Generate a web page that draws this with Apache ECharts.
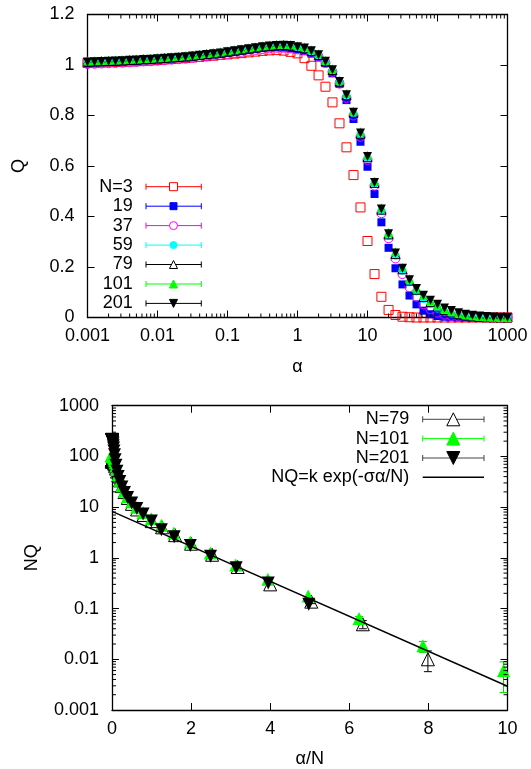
<!DOCTYPE html>
<html><head><meta charset="utf-8">
<script src="https://cdn.jsdelivr.net/npm/echarts@6.0.0/dist/echarts.min.js"></script>
<style>html,body{margin:0;padding:0;background:#fff}#c{width:531px;height:769px}</style>
</head><body><div id="c"></div>
<script>
// ---------- DATA ----------
const alpha = [0.001,0.00126,0.00158,0.002,0.00251,0.00316,0.00398,0.00501,0.00631,0.00794,
0.01,0.0126,0.0158,0.02,0.0251,0.0316,0.0398,0.0501,0.0631,0.0794,
0.1,0.126,0.158,0.2,0.251,0.316,0.398,0.501,0.631,0.794,
1,1.26,1.58,2,2.51,3.16,3.98,5.01,6.31,7.94,
10,12.6,15.8,20,25.1,31.6,39.8,50.1,63.1,79.4,
100,126,158,200,251,316,398,501,631,794,1000];

const topNames = ['N=3','19','37','59','79','101','201'];
const topN = [3,19,37,59,79,101,201];

const qN3 = [1.008,1.009,1.010,1.011,1.012,1.013,1.014,1.015,1.017,1.018,1.020,1.022,1.024,1.026,1.028,1.030,1.032,1.035,1.037,1.040,1.042,1.045,1.047,1.050,1.053,1.056,1.058,1.059,1.057,1.052,1.046,
1.027,0.997,0.959,0.914,0.852,0.769,0.674,0.564,0.436,0.303,0.172,0.082,0.030,0.010,0.003,0.001,0,0,0,0,0,0,0,0,0,0,0,0,0,0];
const qN19 = [1.008,1.009,1.010,1.011,1.012,1.013,1.015,1.016,1.018,1.019,1.021,1.023,1.025,1.027,1.029,1.032,1.035,1.038,1.041,1.044,1.048,1.052,1.056,1.060,1.064,1.067,1.069,1.070,1.069,1.066,1.062,
1.055,1.045,1.030,1.007,0.967,0.925,0.861,0.786,0.696,0.597,0.489,0.377,0.276,0.195,0.131,0.087,0.052,0.027,0.013,0.006,0.003,0.0015,0.0005,0,0,0,0,0,0,0];
const qN37 = [1.004,1.005,1.006,1.007,1.008,1.009,1.011,1.012,1.014,1.015,1.017,1.019,1.021,1.023,1.025,1.028,1.031,1.034,1.037,1.040,1.044,1.048,1.052,1.056,1.060,1.063,1.066,1.068,1.068,1.066,1.062,
1.058,1.048,1.033,1.008,0.973,0.926,0.870,0.800,0.716,0.624,0.522,0.413,0.314,0.234,0.172,0.120,0.082,0.052,0.032,0.019,0.011,0.006,0.0035,0.002,0.001,0.0005,0.0002,0.0001,0,0];
const qN59 = [1.014,1.015,1.016,1.017,1.018,1.019,1.021,1.022,1.024,1.025,1.027,1.029,1.031,1.033,1.035,1.038,1.041,1.044,1.047,1.050,1.054,1.058,1.062,1.066,1.070,1.073,1.076,1.077,1.077,1.075,1.070,
1.064,1.053,1.038,1.012,0.978,0.932,0.878,0.808,0.725,0.632,0.530,0.423,0.325,0.246,0.185,0.140,0.103,0.073,0.052,0.036,0.024,0.015,0.009,0.005,0.003,0.0017,0.001,0.0005,0.0002,0.0001];
const qN79 = [1.013,1.014,1.015,1.016,1.017,1.018,1.020,1.021,1.023,1.024,1.026,1.028,1.030,1.032,1.034,1.037,1.040,1.043,1.046,1.049,1.053,1.057,1.061,1.065,1.069,1.073,1.076,1.078,1.079,1.077,1.071,
1.066,1.055,1.040,1.014,0.980,0.934,0.880,0.811,0.728,0.635,0.533,0.427,0.329,0.251,0.191,0.146,0.110,0.081,0.061,0.043,0.030,0.020,0.013,0.008,0.0045,0.0024,0.0012,0.0006,0.0003,0.0001];
const qN101 = [1.016,1.017,1.018,1.019,1.020,1.021,1.023,1.024,1.026,1.027,1.029,1.031,1.033,1.035,1.037,1.040,1.043,1.046,1.049,1.052,1.056,1.060,1.064,1.068,1.072,1.076,1.079,1.081,1.082,1.081,1.076,
1.071,1.060,1.045,1.019,0.985,0.940,0.887,0.818,0.736,0.643,0.540,0.435,0.337,0.260,0.198,0.153,0.117,0.088,0.066,0.049,0.035,0.025,0.017,0.011,0.007,0.0037,0.0018,0.0006,0.0002,0.0001];
const qN201 = [1.012,1.013,1.014,1.015,1.016,1.017,1.019,1.020,1.022,1.023,1.025,1.027,1.029,1.031,1.033,1.036,1.039,1.042,1.045,1.048,1.052,1.056,1.060,1.064,1.068,1.072,1.075,1.077,1.078,1.077,1.072,
1.067,1.056,1.041,1.015,0.981,0.935,0.882,0.813,0.731,0.638,0.535,0.430,0.332,0.255,0.195,0.150,0.115,0.088,0.068,0.052,0.038,0.028,0.019,0.013,0.0085,0.0055,0.0035,0.0022,0.0012,0.0006];
const topQ = [qN3,qN19,qN37,qN59,qN79,qN101,qN201];

const logTickLabels = ['0.001','0.01','0.1','1','10','100','1000'];
const minorMult = [2,3,4,5,6,7,8,9];
const decades = [0.001,0.01,0.1,1,10,100];

// bottom panel: NQ versus alpha/N
const botNames = ['N=79','N=101','N=201','NQ=k exp(-\u03c3\u03b1/N)'];
const botN = [79,101,201];
const nqN79 = [80.0,80.1,80.2,80.3,80.3,80.4,80.6,80.7,80.8,80.9,81.1,81.2,81.4,81.5,81.7,81.9,82.2,82.4,82.6,82.9,83.2,83.5,83.8,84.1,84.5,84.8,85.0,85.2,85.2,85.1,84.6,
84.2,83.3,82.2,80.1,77.4,73.8,69.5,64.1,57.5,50.2,42.1,33.7,26.0,19.8,15.1,11.6,9.0,7.0,5.3,4.0,2.8,1.9,1.15,0.66,0.30,0.137,0.049,0.0100,null,null];
const nqN101 = [102.6,102.7,102.8,102.9,103.0,103.1,103.3,103.4,103.6,103.7,103.9,104.1,104.3,104.5,104.7,105.0,105.3,105.6,105.9,106.3,106.7,107.1,107.5,107.9,108.3,108.7,109.0,109.2,109.3,109.2,108.7,
108.2,107.1,105.5,102.9,99.5,94.9,89.6,82.6,74.3,64.9,54.5,44,34,26.3,20.5,16.2,12.8,10.0,7.8,5.9,4.4,3.1,2.05,1.25,0.72,0.377,0.177,0.064,0.0184,0.0060];
const nqN201 = [203,204,204,204,204,204,205,205,205,206,206,206,207,207,208,208,209,209,210,211,211,212,213,214,215,215,216,216,217,216,215,
214,212,209,204,197,188,177,163,147,128,108,86,67,51,40,32,25,19.5,15.5,12.0,9.4,7.3,5.3,3.6,2.6,1.75,1.08,0.64,0.32,0.121];
const botNQ = [nqN79,nqN101,nqN201];
// error bars: index into alpha, low, high
const err79Idx = [56,57,58], err79Lo = [0.125,0.040,0.0057], err79Hi = [0.150,0.058,0.0146];
const err101Idx = [58,59,60], err101Lo = [0.058,0.0137,0.0022], err101Hi = [0.070,0.0225,0.0089];
// fitted line end points
const fitX = [0, 10];
const fitY = [8.27, 0.00294];

// ---------- STYLES ----------
const FF = '"Liberation Sans", Arial, sans-serif';
const topStyles = [
  {symbol:'rect', size:9, fill:'transparent', stroke:'#ff0000'},
  {symbol:'rect', size:8, fill:'#0000ff', stroke:'#0000ff'},
  {symbol:'circle', size:9, fill:'transparent', stroke:'#ff00ff'},
  {symbol:'circle', size:8, fill:'#00ffff', stroke:'#00ffff'},
  {symbol:'triangle', size:9, fill:'transparent', stroke:'#000000'},
  {symbol:'triangle', size:9, fill:'#00ff00', stroke:'#00ff00'},
  {symbol:'triangle', size:9, rotate:180, fill:'#000000', stroke:'#000000'}
];
const topLineColors = ['#ff0000','#0000ff','#ff00ff','#00ffff','#000000','#00ff00','#000000'];
const botStyles = [
  {symbol:'triangle', size:13, fill:'transparent', stroke:'#000000'},
  {symbol:'triangle', size:13, fill:'#00ff00', stroke:'#00ff00'},
  {symbol:'triangle', size:13, rotate:180, fill:'#000000', stroke:'#000000'}
];
const botLineColors = ['#444444','#00ff00','#444444'];

function axBase(extra){
  return Object.assign({
    axisLine:{onZero:false, lineStyle:{color:'#000', width:1.3}},
    axisTick:{inside:true, length:7, lineStyle:{color:'#000', width:1}},
    splitLine:{show:false},
    axisLabel:{color:'#000', fontSize:18, fontFamily:FF, margin:10},
    nameTextStyle:{color:'#000', fontSize:18, fontFamily:FF}
  }, extra);
}
const logFmt = v => logTickLabels[Math.round(Math.log10(v)) + 3];

const series = [];
topQ.forEach((q, s) => {
  const st = topStyles[s];
  series.push({
    type:'scatter', name: topNames[s], xAxisIndex:0, yAxisIndex:0,
    symbol: st.symbol, symbolSize: st.size, symbolRotate: st.rotate || 0,
    itemStyle:{color: st.fill, borderColor: st.stroke, borderWidth: st.fill==='transparent'?1:0, opacity:1},
    data: alpha.map((a,i)=>[a, q[i]]), silent:true, animation:false, z:2
  });
});
function errSeries(idx, lo, hi, N, color){
  return {type:'custom', xAxisIndex:2, yAxisIndex:2, silent:true, animation:false, z:3,
    data: idx.map((k,j)=>[alpha[k]/N, lo[j], hi[j]]),
    renderItem(p, api){
      const a = api.coord([api.value(0), api.value(1)]);
      const b = api.coord([api.value(0), api.value(2)]);
      const w = 4, sty = {stroke:color, lineWidth:1};
      return {type:'group', children:[
        {type:'line', shape:{x1:a[0],y1:a[1],x2:b[0],y2:b[1]}, style:sty},
        {type:'line', shape:{x1:a[0]-w,y1:a[1],x2:a[0]+w,y2:a[1]}, style:sty},
        {type:'line', shape:{x1:b[0]-w,y1:b[1],x2:b[0]+w,y2:b[1]}, style:sty}]};
    }};
}
series.push(errSeries(err79Idx, err79Lo, err79Hi, 79, '#000'));
series.push(errSeries(err101Idx, err101Lo, err101Hi, 101, '#00cc00'));
botNQ.forEach((nq, s) => {
  const st = botStyles[s];
  series.push({
    type:'scatter', name: botNames[s], xAxisIndex:2, yAxisIndex:2,
    symbol: st.symbol, symbolSize: st.size, symbolRotate: st.rotate || 0,
    itemStyle:{color: st.fill, borderColor: st.stroke, borderWidth: st.fill==='transparent'?1:0, opacity:1},
    data: alpha.map((a,i)=>[a/botN[s], nq[i]]).filter(d => d[1] != null && d[0] <= 10),
    silent:true, animation:false, z:4
  });
});
series.push({type:'line', name: botNames[3], xAxisIndex:2, yAxisIndex:2, symbol:'none',
  lineStyle:{color:'#000', width:1.4}, data: fitX.map((x,i)=>[x, fitY[i]]), silent:true, animation:false, z:5});

// minor ticks for log axes
const minorVals = [];
decades.forEach(d => minorMult.forEach(m => minorVals.push(d*m)));
series.push({type:'custom', xAxisIndex:0, yAxisIndex:0, silent:true, animation:false, z:6,
  data: minorVals.map(v=>[v, 0]),
  renderItem(p, api){
    const b = api.coord([api.value(0), 0]), t = api.coord([api.value(0), 1.2]);
    const sty = {stroke:'#000', lineWidth:1};
    return {type:'group', children:[
      {type:'line', shape:{x1:b[0],y1:b[1],x2:b[0],y2:b[1]-4}, style:sty},
      {type:'line', shape:{x1:t[0],y1:t[1],x2:t[0],y2:t[1]+4}, style:sty}]};
  }});
series.push({type:'custom', xAxisIndex:2, yAxisIndex:2, silent:true, animation:false, z:6,
  data: minorVals.map(v=>[0, v]),
  renderItem(p, api){
    const l = api.coord([0, api.value(1)]), r = api.coord([10, api.value(1)]);
    const sty = {stroke:'#000', lineWidth:1};
    return {type:'group', children:[
      {type:'line', shape:{x1:l[0],y1:l[1],x2:l[0]+4,y2:l[1]}, style:sty},
      {type:'line', shape:{x1:r[0],y1:r[1],x2:r[0]-4,y2:r[1]}, style:sty}]};
  }});

// ---------- LEGENDS (graphic) ----------
function marker(st, cx, cy){
  const s = st.size, h = s/2;
  const style = {fill: st.fill==='transparent' ? '#fff' : st.fill, stroke: st.stroke, lineWidth:1};
  if (st.symbol==='rect') return {type:'rect', shape:{x:cx-h,y:cy-h,width:s,height:s}, style};
  if (st.symbol==='circle') return {type:'circle', shape:{cx:cx,cy:cy,r:h}, style};
  const pts = st.rotate ? [[cx-h,cy-h],[cx+h,cy-h],[cx,cy+h]] : [[cx,cy-h],[cx+h,cy+h],[cx-h,cy+h]];
  return {type:'polygon', shape:{points:pts}, style};
}
function errLegendRow(text, tx, x1, x2, mx, y, color, st){
  const sty = {stroke:color, lineWidth:1};
  const els = [
    {type:'text', style:{text:text, x:tx, y:y, textAlign:'right', textVerticalAlign:'middle', font:'18px '+FF, fill:'#000'}},
    {type:'line', shape:{x1:x1,y1:y,x2:x2,y2:y}, style:sty},
    {type:'line', shape:{x1:x1,y1:y-3,x2:x1,y2:y+3}, style:sty},
    {type:'line', shape:{x1:x2,y1:y-3,x2:x2,y2:y+3}, style:sty}
  ];
  if (st) els.push(marker(st, mx, y));
  return els;
}
const graphic = [];
const topRowsY = [186.7,206.2,225.6,245.1,264.5,284.0,303.4];
topNames.forEach((n,i)=>{
  const st = Object.assign({}, topStyles[i], {size: topStyles[i].size - 1});
  errLegendRow(n, 132.7, 146, 201.3, 173.5, topRowsY[i], topLineColors[i], st).forEach(e=>graphic.push(e));
});
const botRowsY = [419.3,438.6,458.0,477.3];
for (let i=0;i<3;i++){
  errLegendRow(botNames[i], 409.3, 422.7, 484, 453.3, botRowsY[i], botLineColors[i], botStyles[i]).forEach(e=>graphic.push(e));
}
graphic.push({type:'text', style:{text:botNames[3], x:409.3, y:botRowsY[3], textAlign:'right', textVerticalAlign:'middle', font:'18px '+FF, fill:'#000'}});
graphic.push({type:'line', shape:{x1:422.7,y1:botRowsY[3],x2:484,y2:botRowsY[3]}, style:{stroke:'#000', lineWidth:1.4}});

const option = {
  animation:false,
  backgroundColor:'#fff',
  textStyle:{fontFamily:FF},
  grid:[
    {left:87.5, top:14.5, width:420, height:303},
    {left:112, top:405.7, width:395.5, height:305.3}
  ],
  xAxis:[
    axBase({gridIndex:0, type:'log', logBase:10, min:0.001, max:1000, position:'bottom',
      name:'\u03b1', nameLocation:'middle', nameGap:41,
      axisLabel:{color:'#000', fontSize:18, fontFamily:FF, margin:10, formatter:logFmt}}),
    axBase({gridIndex:0, type:'log', logBase:10, min:0.001, max:1000, position:'top', axisLabel:{show:false}}),
    axBase({gridIndex:1, type:'value', min:0, max:10, interval:2, position:'bottom',
      name:'\u03b1/N', nameLocation:'middle', nameGap:40}),
    axBase({gridIndex:1, type:'value', min:0, max:10, interval:2, position:'top', axisLabel:{show:false}})
  ],
  yAxis:[
    axBase({gridIndex:0, type:'value', min:0, max:1.2, interval:0.2, position:'left',
      name:'Q', nameLocation:'middle', nameGap:59,
      axisLabel:{color:'#000', fontSize:18, fontFamily:FF, margin:13}}),
    axBase({gridIndex:0, type:'value', min:0, max:1.2, interval:0.2, position:'right', axisLabel:{show:false}}),
    axBase({gridIndex:1, type:'log', logBase:10, min:0.001, max:1000, position:'left',
      name:'NQ', nameLocation:'middle', nameGap:71,
      axisLabel:{color:'#000', fontSize:18, fontFamily:FF, margin:13, formatter:logFmt}}),
    axBase({gridIndex:1, type:'log', logBase:10, min:0.001, max:1000, position:'right', axisLabel:{show:false}})
  ],
  series: series,
  graphic: graphic
};
const chart = echarts.init(document.getElementById('c'), null, {renderer:'canvas'});
chart.setOption(option);
</script>
</body></html>
